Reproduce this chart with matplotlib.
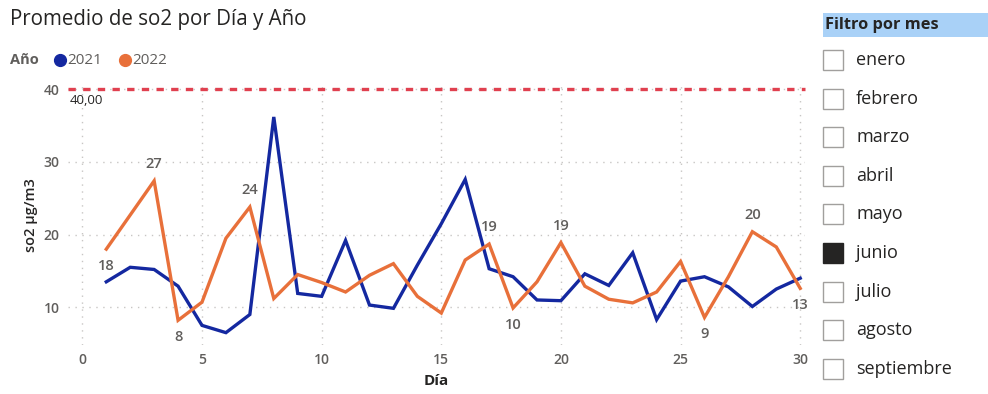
import matplotlib
matplotlib.use("Agg")
import matplotlib.pyplot as plt
from matplotlib.patches import Rectangle
from matplotlib.lines import Line2D

plt.rcParams['font.family'] = ['Open Sans', 'DejaVu Sans']

# Daily average SO2 (µg/m3) for June
dias = list(range(1, 31))
so2_2021 = [13.5, 15.5, 15.2, 12.9, 7.5, 6.5, 9.0, 36.2, 11.9, 11.5,
            19.2, 10.3, 9.85, 15.8, 21.5, 27.6, 15.3, 14.2, 11.0, 10.9,
            14.6, 13.0, 17.5, 8.3, 13.6, 14.2, 12.8, 10.1, 12.5, 14.0]
so2_2022 = [18.0, 22.7, 27.4, 8.2, 10.7, 19.5, 23.8, 11.2, 14.5, 13.4,
            12.1, 14.4, 16.0, 11.5, 9.2, 16.5, 18.7, 9.9, 13.5, 18.9,
            12.9, 11.1, 10.6, 12.1, 16.3, 8.6, 14.2, 20.4, 18.3, 12.6]
limite = 40.0
# Labelled points on the 2022 series: (day, position)
etiquetas = [(1, 'below'), (3, 'above'), (4, 'below'), (7, 'above'), (17, 'above'),
             (18, 'below'), (20, 'above'), (26, 'below'), (28, 'above'), (30, 'below')]
meses = ['enero', 'febrero', 'marzo', 'abril', 'mayo', 'junio', 'julio',
         'agosto', 'septiembre']
mes_sel = 'junio'
xticks = [0, 5, 10, 15, 20, 25, 30]
yticks = [10, 20, 30, 40]

AZUL = '#1428A0'
NARANJA = '#E8703A'
ROJO = '#E0404F'
GRIS = '#605E5C'

W, H = 988, 394
fig = plt.figure(figsize=(W / 100, H / 100), dpi=100)

ax = fig.add_axes([68 / W, 1 - 345 / H, (805 - 68) / W, (345 - 85) / H])
ax.plot(dias, so2_2021, color=AZUL, lw=2.4, solid_joinstyle='miter', zorder=3)
ax.plot(dias, so2_2022, color=NARANJA, lw=2.4, solid_joinstyle='miter', zorder=3)
ax.axhline(limite, color=ROJO, lw=2.4, ls=(0, (2.2, 2.2)), zorder=2, clip_on=False)
ax.text(-0.55, limite - 0.6, f'{limite:.2f}'.replace('.', ','), ha='left', va='top',
        fontsize=9.5, color='#252423')

for d, pos in etiquetas:
    v = so2_2022[d - 1]
    off = 7 if pos == 'above' else -7
    ax.annotate(f'{v:.0f}', (d, v), xytext=(0, off), textcoords='offset points',
                ha='center', va='bottom' if pos == 'above' else 'top',
                fontsize=10.5, color=GRIS, fontweight='semibold')

ax.set_xlim(-0.6, 30.2)
ax.set_ylim(4.8, 40.6)
ax.set_xticks(xticks)
ax.set_yticks(yticks)
ax.tick_params(length=0, labelsize=10, labelcolor=GRIS, pad=6)
for lab in ax.get_xticklabels() + ax.get_yticklabels():
    lab.set_fontweight('semibold')
ax.grid(True, color='#C8C6C4', ls=(0, (1, 4)), lw=1)
for s in ax.spines.values():
    s.set_visible(False)
ax.set_xlabel('Día', fontsize=11, fontweight='bold', color='#252423', labelpad=5)
ax.set_ylabel('so2 µg/m3', fontsize=10.5, fontweight='semibold', color='#252423', labelpad=4)

# Title and legend
fig.text(10 / W, 1 - 20 / H, 'Promedio de so2 por Día y Año', fontsize=14.8,
         color='#252423', va='center', ha='left')
fig.text(10 / W, 1 - 60 / H, 'Año', fontsize=10.5, fontweight='bold', color=GRIS,
         va='center', ha='left')
fig.add_artist(Line2D([60 / W], [1 - 60 / H], marker='o', ms=8.5, color=AZUL, ls=''))
fig.text(67 / W, 1 - 60 / H, '2021', fontsize=11, color=GRIS, va='center', ha='left')
fig.add_artist(Line2D([125 / W], [1 - 60 / H], marker='o', ms=8.5, color=NARANJA, ls=''))
fig.text(132 / W, 1 - 60 / H, '2022', fontsize=11, color=GRIS, va='center', ha='left')

# Month slicer
fig.add_artist(Rectangle((823 / W, 1 - 37 / H), 165 / W, 24 / H, transform=fig.transFigure,
                         facecolor='#A9D1F7', edgecolor='none'))
fig.text(825 / W, 1 - 25 / H, 'Filtro por mes', fontsize=11.8, fontweight='bold',
         color='#252423', va='center', ha='left')
for i, m in enumerate(meses):
    yc = 60 + i * 38.6
    sel = (m == mes_sel)
    fig.add_artist(Rectangle((823 / W, 1 - (yc + 10) / H), 20 / W, 20 / H,
                             transform=fig.transFigure,
                             facecolor='#252423' if sel else 'white',
                             edgecolor='#252423' if sel else '#A19F9D', lw=1))
    fig.text(856 / W, 1 - yc / H, m, fontsize=13, color='#252423', va='center', ha='left')

fig.savefig('out.png', dpi=100)
